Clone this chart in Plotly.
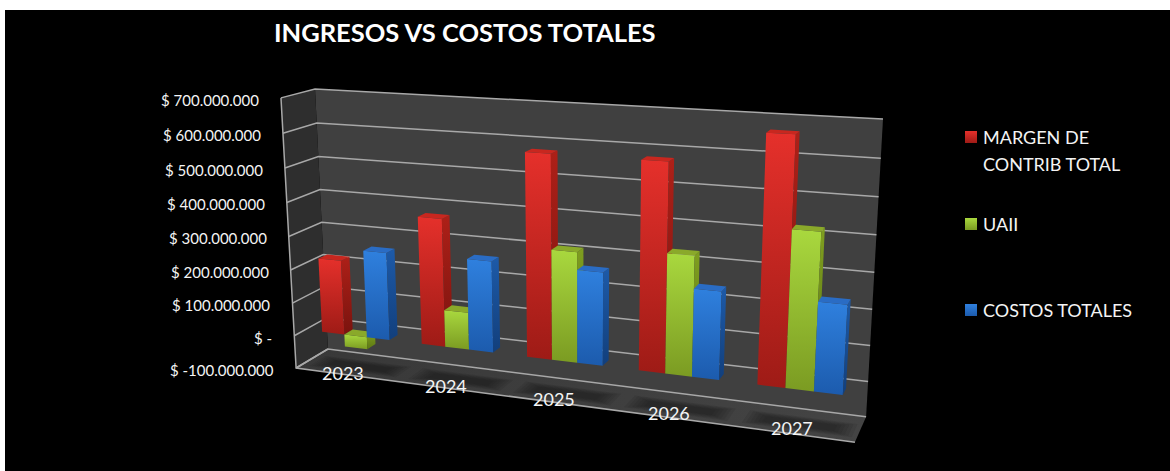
import numpy as np
import plotly.graph_objects as go

# Chart data
categories = ["2023", "2024", "2025", "2026", "2027"]
margen_total = [224e6, 375e6, 580e6, 580e6, 670e6]
uaii = [-37e6, 109e6, 315e6, 335e6, 427e6]
costos_totales = [261e6, 266e6, 265e6, 245e6, 243e6]
value_ticks = [-100e6, 0, 100e6, 200e6, 300e6, 400e6, 500e6, 600e6, 700e6]
tick_labels = ["$ -100.000.000", "$ -", "$ 100.000.000", "$ 200.000.000", "$ 300.000.000",
               "$ 400.000.000", "$ 500.000.000", "$ 600.000.000", "$ 700.000.000"]
title_text = "INGRESOS VS COSTOS TOTALES"

WIDTH, HEIGHT = 1170, 471
FONT = "Lato"
TEXT = "#f4f4f4"

# Perspective of the plot box: (category, value in 100M, depth) -> page position.
box_corners = [
    ((0, 7, 0), (281, 98)), ((0, -1, 0), (296, 368)),
    ((0, 7, 1), (315, 89)), ((0, -1, 1), (328, 349)),
    ((5, 7, 1), (883, 119)), ((5, -1, 1), (866, 417)),
    ((5, -1, 0), (855, 442)),
]


def fit_projection(pairs):
    rows = []
    for (a, b, c), (u, v) in pairs:
        rows.append([a, b, c, 1, 0, 0, 0, 0, -u * a, -u * b, -u * c, -u])
        rows.append([0, 0, 0, 0, a, b, c, 1, -v * a, -v * b, -v * c, -v])
    return np.linalg.svd(np.array(rows, float))[2][-1].reshape(3, 4)


PROJ = fit_projection(box_corners)


def project(cat, value, depth):
    p = PROJ @ np.array([cat, value / 1e8, depth, 1.0])
    return float(p[0] / p[2]), float(p[1] / p[2])


def polygon(points):
    xy = [project(*p) for p in points]
    xy.append(xy[0])
    return [q[0] for q in xy], [q[1] for q in xy]


fig = go.Figure()


def add_face(points, name="", color=None, grad=None, gtype="vertical"):
    x, y = polygon(points)
    kw = {}
    if grad is not None:
        kw["fillgradient"] = dict(type=gtype, colorscale=[[0, grad[0]], [1, grad[1]]])
    else:
        kw["fillcolor"] = color
    fig.add_trace(go.Scatter(x=x, y=y, mode="none", fill="toself", name=name,
                             showlegend=False, hoverinfo="skip", **kw))


def add_line(points, color="#a8a8a8", width=1.5):
    xy = [project(*p) for p in points]
    fig.add_trace(go.Scatter(x=[q[0] for q in xy], y=[q[1] for q in xy], mode="lines",
                             line=dict(color=color, width=width),
                             showlegend=False, hoverinfo="skip"))


VMIN, VMAX = value_ticks[0], value_ticks[-1]
NCAT = len(categories)

# Walls and floor
add_face([(0, VMIN, 1), (NCAT, VMIN, 1), (NCAT, VMAX, 1), (0, VMAX, 1)], color="#404040")
add_face([(0, VMIN, 0), (0, VMIN, 1), (0, VMAX, 1), (0, VMAX, 0)], color="#2e2e2e")
add_face([(0, VMIN, 0), (NCAT, VMIN, 0), (NCAT, VMIN, 1), (0, VMIN, 1)],
         grad=("#383838", "#444444"), gtype="horizontal")

# Soft shadows on the floor
for i in range(NCAT):
    for k in range(6):
        inset = 0.03 * k
        add_face([(i + 0.08 + inset, VMIN, 0.16 + inset),
                  (i + 0.96 - inset, VMIN, 0.16 + inset),
                  (i + 0.96 - inset, VMIN, 0.68 - inset),
                  (i + 0.08 + inset, VMIN, 0.68 - inset)],
                 color="rgba(15,15,15,0.10)")

# Gridlines on the back and left walls
for v in value_ticks:
    add_line([(0, v, 0), (0, v, 1), (NCAT, v, 1)])
add_line([(0, VMAX, 0), (0, VMIN, 0), (NCAT, VMIN, 0)])
add_line([(0, VMIN, 0), (0, VMIN, 1)])

# Bars
BAR_W = 0.228
BAR_GAP = (1 - 3 * BAR_W) / 2 + 0.018
Z_FRONT, Z_BACK = 0.33, 0.60
series = [
    ("MARGEN DE CONTRIB TOTAL", margen_total,
     ("#e5302b", "#9e1b16"), ("#ad2018", "#7a130e"), "#c8271f"),
    ("UAII", uaii,
     ("#a9d83e", "#7b9b22"), ("#7f9e20", "#5c7812"), "#8aa92a"),
    ("COSTOS TOTALES", costos_totales,
     ("#2f80de", "#1c5bad"), ("#1d5aa8", "#123f7c"), "#2a6cc4"),
]
for i in range(NCAT):
    for s, (name, values, front, side, top) in enumerate(series):
        x0 = i + BAR_GAP + BAR_W * s
        x1 = x0 + BAR_W
        v = values[i]
        hi, lo = max(v, 0), min(v, 0)
        add_face([(x0, lo, Z_FRONT), (x1, lo, Z_FRONT), (x1, hi, Z_FRONT), (x0, hi, Z_FRONT)],
                 name=name, grad=(front[1], front[0]))
        add_face([(x1, lo, Z_FRONT), (x1, lo, Z_BACK), (x1, hi, Z_BACK), (x1, hi, Z_FRONT)],
                 name=name, grad=(side[1], side[0]))
        add_face([(x0, hi, Z_FRONT), (x1, hi, Z_FRONT), (x1, hi, Z_BACK), (x0, hi, Z_BACK)],
                 name=name, color=top)

# Text
notes = []
for v, label in zip(value_ticks, tick_labels):
    x, y = project(0, v, 0)
    notes.append(dict(x=x - 20, y=y + 2, text=label, xanchor="right", yanchor="middle",
                      showarrow=False, font=dict(family=FONT, size=15, color=TEXT)))
for i, label in enumerate(categories):
    x, y = project(i + 0.5, VMIN, 0.1)
    notes.append(dict(x=x - 5 + i, y=y + 1 - i, text=label, xanchor="center", yanchor="middle",
                      showarrow=False, font=dict(family=FONT, size=18, color=TEXT)))
notes.append(dict(x=465, y=32, text="<b>" + title_text + "</b>", xanchor="center", yanchor="middle",
                  showarrow=False, font=dict(family=FONT, size=25.5, color="#ffffff")))

# Key to the series
legend_rows = [
    (137, ["MARGEN DE", "CONTRIB TOTAL"], series[0][2]),
    (224, ["UAII"], series[1][2]),
    (310, ["COSTOS TOTALES"], series[2][2]),
]
for y, lines, colors in legend_rows:
    fig.add_trace(go.Scatter(x=[971], y=[y], mode="markers", showlegend=False, hoverinfo="skip",
                             marker=dict(symbol="square", size=12, color=colors[0],
                                         gradient=dict(type="vertical", color=colors[1]))))
    for j, line in enumerate(lines):
        notes.append(dict(x=980.5, y=y + j * 27, text=line, xanchor="left", yanchor="middle",
                          showarrow=False, font=dict(family=FONT, size=18, color=TEXT)))

fig.update_layout(
    width=WIDTH, height=HEIGHT, margin=dict(l=0, r=0, t=0, b=0),
    paper_bgcolor="#ffffff", plot_bgcolor="#ffffff", showlegend=False,
    xaxis=dict(range=[0, WIDTH], visible=False, fixedrange=True),
    yaxis=dict(range=[HEIGHT, 0], visible=False, fixedrange=True),
    annotations=notes,
    shapes=[dict(type="rect", x0=5, x1=WIDTH, y0=10, y1=HEIGHT, fillcolor="#000000",
                 line_width=0, layer="below")],
)
fig.write_html("out.html", config=dict(displayModeBar=False))
